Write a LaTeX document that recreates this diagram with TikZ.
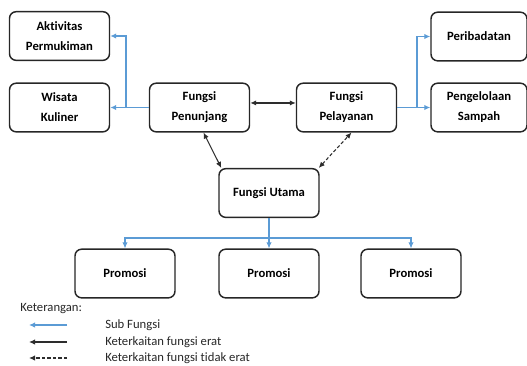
\documentclass[tikz,border=0pt]{standalone}
\usepackage{fontspec}
\setmainfont{Carlito}[Ligatures={NoCommon}]
\usetikzlibrary{arrows.meta,positioning,calc}
\definecolor{subblue}{RGB}{91,155,213}
\definecolor{boxline}{RGB}{38,38,38}
\definecolor{linkgray}{RGB}{45,45,45}
\tikzset{
  >={Latex[length=4.5pt,width=4pt]},
  box/.style={rounded corners=5pt, draw=boxline, line width=1.1pt, align=center, minimum width=75pt, minimum height=36.5pt, inner sep=2pt, fill=white, font=\bfseries\fontsize{9.5}{15}\selectfont},
  sub/.style={->, draw=subblue, line width=0.8pt},
  kuat/.style={->, draw=linkgray, line width=0.8pt},
  lemah/.style={kuat, dash pattern=on 2.5pt off 1.6pt},
  legtext/.style={anchor=west, inner sep=0pt, text=black!85, font=\fontsize{9.5}{11}\selectfont}
}
\begin{document}
\begin{tikzpicture}[x=0.75pt, y=-0.75pt]
  \useasboundingbox (0,0) rectangle (527,365);
  % kotak fungsi
  \node[box] (akt) at (59.5,36) {Aktivitas\\Permukiman};
  \node[box] (wis) at (59.5,107.5) {Wisata\\Kuliner};
  \node[box] (pen) at (199.5,107.5) {Fungsi\\Penunjang};
  \node[box] (pel) at (346.5,107.5) {Fungsi\\Pelayanan};
  \node[box, minimum width=72pt] (per) at (479,36.5) {Peribadatan};
  \node[box, minimum width=72pt] (sam) at (479,107.5) {Pengelolaan\\Sampah};
  \node[box] (uta) at (269,193) {Fungsi Utama};
  \node[box] (pro1) at (125,273.5) {Promosi};
  \node[box] (pro2) at (269,273.5) {Promosi};
  \node[box] (pro3) at (411,273.5) {Promosi};

  % sub fungsi
  \coordinate (jl) at (126,107.5);
  \coordinate (jr) at (417,107.5);
  \coordinate (jb) at (269,238);
  \draw[sub] (pen.west) -- (jl) -- (wis.east);
  \draw[sub] (jl) |- (akt.east);
  \draw[sub] (pel.east) -- (jr) -- (sam.west);
  \draw[sub] (jr) |- (per.west);
  \draw[sub] (uta.south) -- (pro2.north);
  \draw[sub] (jb) -| (pro1.north);
  \draw[sub] (jb) -| (pro3.north);

  % keterkaitan
  \draw[kuat, <->] ([yshift=3.4pt]pen.east) -- ([yshift=3.4pt]pel.west);
  \draw[kuat, <->] ($(pen.south)+(4,0)$) -- ($(uta.north west)+(3,0)$);
  \draw[lemah, <->] ($(uta.north east)+(-1,0)$) -- ($(pel.south)+(5,0)$);

  % keterangan
  \node[legtext] (ket) at (20,309) {Keterangan:};
  \node[legtext] (lg1) at (105,325) {Sub Fungsi};
  \node[legtext] (lg2) at (105,342) {Keterkaitan fungsi erat};
  \node[legtext] (lg3) at (105,358) {Keterkaitan fungsi tidak erat};
  \foreach \i/\y/\gaya in {1/325/sub, 2/342/kuat, 3/358/lemah} {
    \coordinate (s\i) at (67,\y);
    \coordinate (e\i) at (29,\y);
    \draw[\gaya] (s\i) -- (e\i);
  }
\end{tikzpicture}
\end{document}
